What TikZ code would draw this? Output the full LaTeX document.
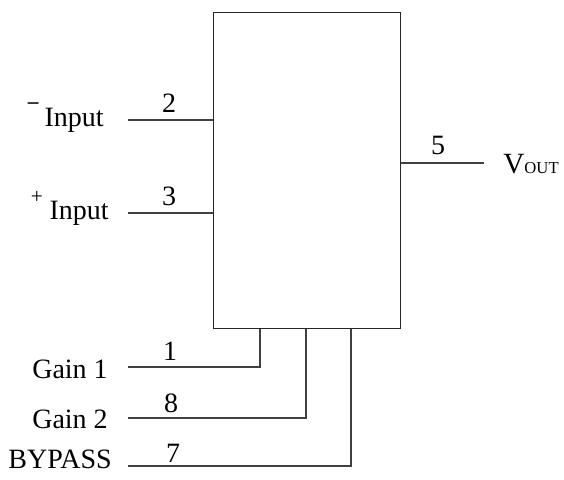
\documentclass[tikz,border=0pt]{standalone}
\usepackage{fontspec}
\setmainfont{Liberation Serif}
\usepackage{tikz}
\usetikzlibrary{positioning,calc}

\newcommand{\pinsign}[2]{\raisebox{#1}{\fontsize{16}{16}\selectfont #2}}

\begin{document}
\begin{tikzpicture}[
    x=0.75pt, y=-0.75pt,
    chip/.style={rectangle, draw=black!85, line width=1.1pt, anchor=north west, inner sep=0pt, minimum width=140.25pt, minimum height=237pt},
    pinline/.style={draw=black!75, line width=0.8pt},
    pinnum/.style={anchor=base, inner sep=0pt, font=\fontsize{21}{23}\selectfont},
    pinlabel/.style={anchor=base east, inner sep=0pt, font=\fontsize{21}{23}\selectfont}
]
    \useasboundingbox (0,0) rectangle (564,479);

    % Amplifier body
    \node[chip] (amp) at (213,12) {};

    % Inputs
    \coordinate (p2) at (128,120);
    \coordinate (p3) at (128,213);
    \node[pinlabel] (inv) at (104,126) {\pinsign{13.5pt}{\bfseries –}\hspace{4.5pt}Input};
    \node[pinlabel] (noninv) at (109,219) {\pinsign{12pt}{+}\hspace{5pt}Input};
    \node[pinnum] (n2) at (169,112) {2};
    \node[pinnum] (n3) at (169,205) {3};

    % Output
    \coordinate (p5) at (484,163);
    \node[anchor=base west, inner sep=0pt, font=\fontsize{22}{24}\selectfont] (vout) at (503,173) {V{\fontsize{12.5}{13}\selectfont OUT}};
    \node[pinnum] (n5) at (438,154) {5};

    % Gain and bypass pins
    \coordinate (b1) at ($(amp.south west)+(47,0)$);
    \coordinate (b8) at ($(amp.south west)+(93,0)$);
    \coordinate (b7) at ($(amp.south west)+(138,0)$);
    \coordinate (p1) at (128,367);
    \coordinate (p8) at (128,418);
    \coordinate (p7) at (128,466);
    \node[pinlabel] (gain1) at (108,378) {Gain 1};
    \node[pinlabel] (gain2) at (108,428) {Gain 2};
    \node[pinlabel] (bypass) at (112,468) {BYPASS};
    \node[pinnum] (n1) at (170,360) {1};
    \node[pinnum] (n8) at (171,412) {8};
    \node[pinnum] (n7) at (173,462) {7};

    % Wires
    \draw[pinline] (p2) -- (p2 -| amp.west);
    \draw[pinline] (p3) -- (p3 -| amp.west);
    \draw[pinline] (p5 -| amp.east) -- (p5);
    \draw[pinline] (p1) -| (b1);
    \draw[pinline] (p8) -| (b8);
    \draw[pinline] (p7) -| (b7);
\end{tikzpicture}
\end{document}
